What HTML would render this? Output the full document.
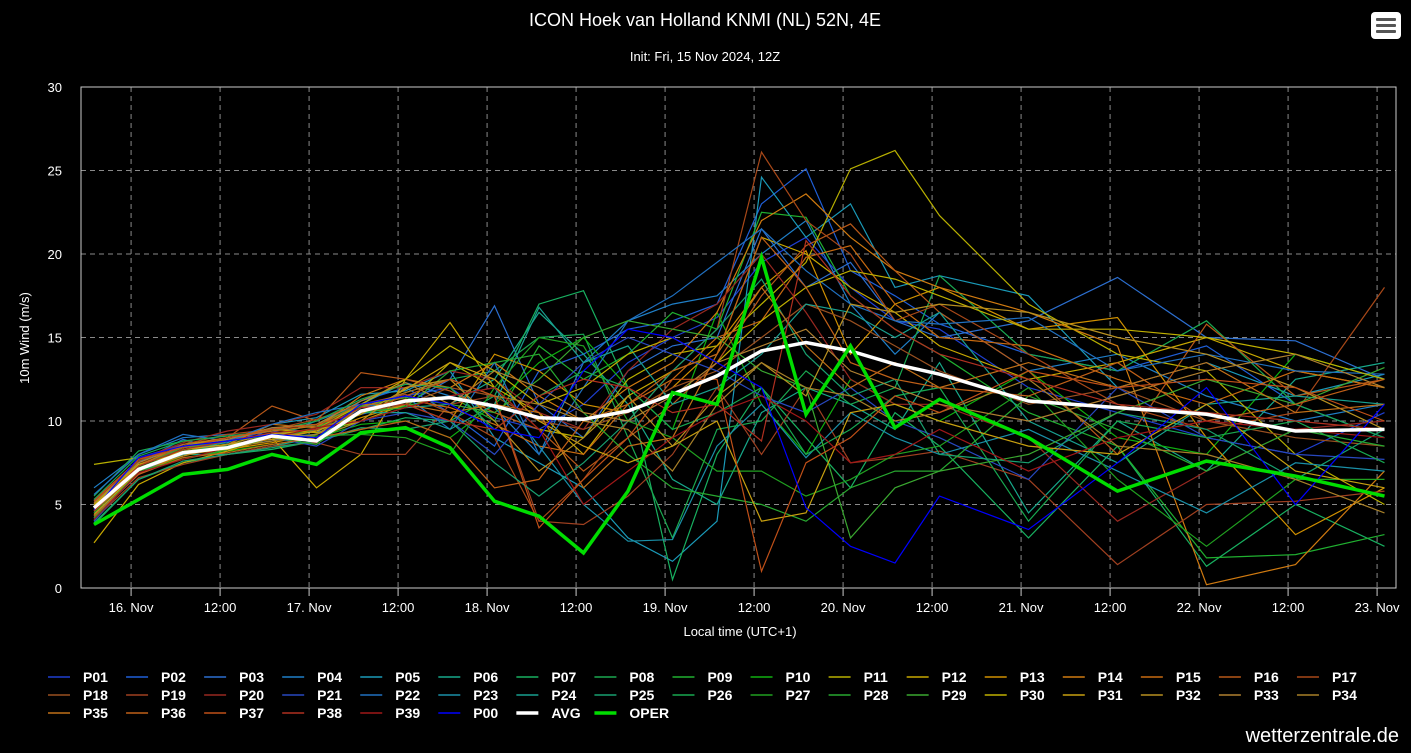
<!DOCTYPE html>
<html><head><meta charset="utf-8">
<style>
html,body{margin:0;padding:0;background:#000;}
body{width:1411px;height:748px;overflow:hidden;position:relative;font-family:"Liberation Sans",sans-serif;}
svg text{font-family:"Liberation Sans",sans-serif;}
</style></head>
<body>
<svg id="chart" width="1411" height="748" xmlns="http://www.w3.org/2000/svg">
<rect x="0" y="0" width="1411" height="748" fill="#000"/>
<text x="705" y="26" fill="#fff" font-size="18" text-anchor="middle">ICON Hoek van Holland KNMI (NL) 52N, 4E</text>
<text x="705" y="61" fill="#fff" font-size="13" text-anchor="middle">Init: Fri, 15 Nov 2024, 12Z</text>
<g>
<rect x="1371" y="12" width="30" height="27" rx="4" fill="#fff"/>
<rect x="1376" y="18" width="20" height="3" rx="1" fill="#555"/>
<rect x="1376" y="24" width="20" height="3" rx="1" fill="#555"/>
<rect x="1376" y="30" width="20" height="3" rx="1" fill="#555"/>
</g>
<g id="grid"></g>
<g id="series"></g>
<rect x="81" y="87" width="1315" height="501" fill="none" stroke="#ccc" stroke-width="1"/>
<g id="axes"></g>
<text transform="translate(29,338) rotate(-90)" fill="#fff" font-size="13" text-anchor="middle">10m Wind (m/s)</text>
<text x="740" y="636" fill="#fff" font-size="13" text-anchor="middle">Local time (UTC+1)</text>
<g id="legend"></g>
<text x="1399" y="742" fill="#fff" font-size="20" text-anchor="end">wetterzentrale.de</text>
</svg>
<script>
const hours=[0,6,12,18,24,30,36,42,48,54,60,66,72,78,84,90,96,102,108,114,126,138,150,162,174];
const yTicks=[0,5,10,15,20,25,30];
const xTickHours=[5,17,29,41,53,65,77,89,101,113,125,137,149,161,173];
const xTickLabels=["16. Nov","12:00","17. Nov","12:00","18. Nov","12:00","19. Nov","12:00","20. Nov","12:00","21. Nov","12:00","22. Nov","12:00","23. Nov"];
const memberNames=["P01","P02","P03","P04","P05","P06","P07","P08","P09","P10","P11","P12","P13","P14","P15","P16","P17","P18","P19","P20","P21","P22","P23","P24","P25","P26","P27","P28","P29","P30","P31","P32","P33","P34","P35","P36","P37","P38","P39","P00"];
const P01=[4.5,7.8,8.6,8.9,9.4,9.0,10.8,11.5,12.0,10.2,9.5,11.0,13.5,15.0,16.2,19.5,21.0,18.0,16.0,15.5,12.0,10.5,9.0,8.0,10.5];
const P02=[5.0,7.5,8.9,8.2,9.6,9.3,11.2,12.0,10.5,8.5,13.0,14.0,15.5,16.0,17.0,23.0,25.1,19.0,17.5,15.8,14.0,13.0,14.5,11.0,9.0];
const P03=[4.2,6.8,8.2,8.5,8.8,9.5,10.4,11.0,12.5,16.9,11.0,9.0,13.0,14.5,15.0,21.5,18.0,19.5,16.0,15.0,16.0,18.6,15.0,14.8,12.5];
const P04=[6.0,8.0,9.0,9.2,9.0,10.0,11.0,12.3,11.5,10.8,8.0,13.5,16.0,17.0,17.5,20.0,22.0,17.0,14.0,16.5,13.0,14.0,11.5,10.0,11.0];
const P05=[5.2,7.6,8.4,8.7,9.8,10.2,11.6,11.8,13.0,9.0,7.5,6.0,3.0,1.6,4.0,24.6,21.0,23.0,18.0,18.7,17.5,12.0,13.5,11.5,12.8];
const P06=[4.0,7.0,8.0,8.0,8.5,9.0,10.0,10.8,11.0,12.5,16.5,14.0,11.0,6.5,5.0,10.5,12.0,11.0,9.5,13.5,4.5,10.0,7.0,12.5,13.5];
const P07=[3.8,6.5,7.5,8.0,8.3,8.8,9.5,10.2,10.0,11.5,17.0,17.8,12.0,0.5,8.0,12.0,9.0,6.0,10.5,8.5,3.0,8.5,1.3,5.0,2.5];
const P08=[5.5,8.2,8.8,8.4,9.2,9.8,11.0,11.5,12.5,13.0,15.0,15.2,9.0,3.0,9.5,10.0,13.0,11.0,12.0,18.7,14.0,13.0,16.0,11.0,9.0];
const P09=[4.6,7.3,8.3,8.6,9.0,9.5,10.5,10.9,11.5,10.0,14.5,12.5,14.0,16.5,15.5,22.5,22.2,17.5,15.5,14.0,10.5,8.5,1.8,2.0,3.2];
const P10=[4.8,7.0,7.8,8.2,8.6,9.0,9.8,10.0,9.0,11.0,13.5,15.0,12.0,9.5,16.5,11.0,8.0,12.5,11.0,10.0,13.0,9.0,8.0,14.0,12.5];
const P11=[7.4,7.8,8.5,9.0,9.5,9.3,10.0,11.0,13.5,12.0,9.5,9.0,12.5,14.0,14.5,17.0,19.5,25.1,26.2,22.3,17.0,14.0,13.0,8.0,5.0];
const P12=[2.7,6.2,7.5,8.2,9.0,6.0,8.0,12.5,15.9,12.0,10.5,8.0,11.5,13.0,14.0,21.0,20.0,18.0,16.5,14.5,12.5,13.5,15.0,13.0,12.0];
const P13=[4.3,6.8,8.0,8.3,8.7,9.2,10.2,11.0,10.0,14.0,13.0,11.0,10.5,12.0,14.5,18.0,20.2,14.0,17.0,18.0,15.5,16.2,9.0,3.2,6.0];
const P14=[5.0,7.2,8.2,8.6,9.8,9.6,11.5,12.5,12.0,13.5,11.5,10.0,12.0,13.5,16.5,22.0,23.6,21.0,19.0,18.0,16.5,14.5,0.2,1.4,7.0];
const P15=[4.4,7.0,7.9,8.5,9.0,9.4,10.6,11.3,10.8,9.8,8.5,8.0,11.0,12.5,15.0,16.0,19.8,20.5,17.0,15.0,14.5,12.5,11.0,13.0,12.0];
const P16=[4.7,7.4,8.4,9.0,10.9,10.0,12.9,12.5,11.8,10.5,9.5,7.0,9.0,11.0,13.5,17.5,20.5,21.8,19.0,16.5,13.0,8.0,15.8,11.5,12.5];
const P17=[5.3,7.6,8.6,9.2,9.5,10.1,11.0,11.6,10.5,9.0,4.0,6.5,10.0,13.0,15.5,26.1,22.0,20.0,16.0,17.0,14.0,11.0,9.5,10.5,18.0];
const P18=[4.9,7.1,8.1,8.5,9.2,9.0,10.5,11.0,12.0,11.5,10.0,9.5,10.5,12.0,13.0,15.0,17.0,16.0,14.5,13.0,11.0,12.0,10.0,9.0,8.5];
const P19=[4.1,6.6,7.4,8.0,8.5,8.7,8.0,8.0,11.0,11.5,4.0,3.8,5.5,8.0,12.0,8.0,12.0,7.5,7.8,8.2,6.5,1.4,5.0,5.2,5.8];
const P20=[5.1,7.7,8.7,9.4,9.8,10.4,12.0,12.0,13.0,12.5,10.5,9.5,13.0,15.5,17.0,20.0,16.5,12.5,11.0,11.0,9.0,4.0,7.0,9.5,10.0];
const P21=[4.0,7.0,8.5,8.5,9.0,8.5,10.0,10.5,10.0,8.0,11.0,13.5,15.0,14.0,13.0,11.5,10.5,12.0,10.0,9.0,6.5,12.0,9.0,8.0,7.7];
const P22=[5.6,8.0,9.2,8.8,9.8,10.5,11.0,11.5,9.5,13.5,8.0,12.0,16.0,17.5,19.5,21.5,19.0,17.0,16.0,15.8,16.2,13.0,14.0,13.0,12.8];
const P23=[4.3,7.0,8.0,8.5,9.0,9.2,10.8,11.2,11.5,12.0,8.5,5.0,2.8,2.9,8.5,11.0,7.8,10.5,9.0,8.0,9.5,7.0,4.5,7.5,7.0];
const P24=[4.6,7.2,8.0,8.8,9.2,9.0,10.5,10.5,9.5,11.0,16.8,13.5,14.5,11.0,12.0,14.0,17.0,16.5,15.0,16.5,10.0,7.5,11.0,11.5,11.0];
const P25=[3.9,6.5,7.6,8.0,8.4,8.8,9.6,9.5,10.0,7.5,5.5,7.5,10.0,13.0,15.5,18.5,14.0,11.5,12.5,8.0,7.5,10.5,9.5,6.5,9.5];
const P26=[5.3,7.9,8.8,9.1,9.4,10.0,11.3,12.2,12.0,9.5,11.5,13.0,12.0,9.5,10.5,12.0,8.0,9.5,11.5,12.0,4.0,10.0,9.0,10.0,7.5];
const P27=[4.5,7.2,8.2,8.5,9.0,9.1,9.2,9.0,8.0,12.0,15.0,14.5,10.0,9.0,7.0,7.0,5.5,6.5,8.0,8.5,12.0,6.5,2.5,6.5,6.5];
const P28=[4.2,7.0,7.7,8.3,9.0,8.6,10.5,10.8,13.0,13.5,14.0,10.5,8.0,6.0,5.5,5.0,4.0,6.0,7.0,7.0,11.5,9.5,7.0,9.5,8.5];
const P29=[4.8,7.3,8.4,8.8,9.1,9.6,10.9,11.4,11.0,10.5,12.5,15.0,16.0,15.5,15.0,13.0,12.0,3.0,6.0,7.0,8.0,10.5,12.5,11.0,13.2];
const P30=[5.0,7.4,8.1,8.3,9.2,9.5,11.0,12.5,14.5,13.0,11.0,12.0,14.0,15.0,13.5,16.0,18.0,19.0,18.5,17.5,15.5,15.5,15.0,14.0,12.5];
const P31=[4.4,7.0,8.3,8.6,8.9,9.4,10.4,11.9,13.5,12.5,10.0,8.5,7.5,8.5,10.0,4.0,4.5,10.5,11.0,10.0,8.5,8.0,11.0,7.0,6.0];
const P32=[4.7,7.1,7.9,8.6,9.3,9.0,10.0,12.0,12.5,10.0,7.0,9.0,11.5,8.5,11.5,13.5,11.5,17.0,16.5,17.0,16.5,15.0,14.0,12.0,9.5];
const P33=[5.1,7.5,8.5,8.9,9.6,9.8,11.2,12.3,11.0,13.0,12.0,10.5,10.0,11.5,13.5,14.5,15.5,13.0,12.0,11.0,10.0,11.5,13.0,14.0,12.0];
const P34=[4.6,7.0,8.2,8.4,8.8,9.2,10.8,11.7,12.5,11.5,11.0,10.0,9.5,7.0,11.0,13.5,12.0,11.5,10.0,10.5,12.5,8.5,8.0,6.5,4.5];
const P35=[4.9,7.3,8.6,9.0,9.4,9.7,11.0,11.0,10.5,11.0,10.5,6.0,8.5,9.0,14.0,18.0,14.5,12.0,13.5,12.0,13.5,12.0,13.5,10.5,11.0];
const P36=[4.3,6.8,7.8,8.1,8.6,9.0,9.5,10.0,9.0,6.0,6.5,10.0,11.0,13.0,14.0,21.0,18.0,13.5,12.5,12.0,11.5,13.5,10.0,11.0,12.5];
const P37=[5.2,7.7,8.4,9.0,9.5,9.8,10.5,11.5,12.5,11.5,3.6,6.5,9.0,12.5,12.5,1.0,7.5,9.0,11.5,10.5,13.0,12.0,12.5,12.0,10.0];
const P38=[4.6,7.3,8.3,8.8,9.3,9.5,10.8,11.0,10.0,9.5,11.5,12.5,12.0,10.5,11.0,8.8,20.8,17.5,15.5,14.0,12.5,11.0,10.5,10.0,9.5];
const P39=[4.1,6.9,7.7,8.4,9.0,9.6,10.0,10.8,11.5,12.0,9.5,5.0,7.0,9.0,10.5,11.5,10.0,7.5,8.0,9.5,7.0,9.0,10.0,9.5,9.0];
const P00=[4.7,7.8,8.5,8.8,9.2,9.0,11.0,11.5,11.0,9.5,9.0,13.0,15.5,15.0,13.5,12.0,4.8,2.5,1.5,5.5,3.5,7.5,12.0,5.0,11.0];
const avgValues=[4.8,7.1,8.1,8.4,9.1,8.8,10.6,11.2,11.4,10.9,10.2,10.1,10.6,11.6,12.7,14.2,14.7,14.2,13.4,12.8,11.2,10.8,10.4,9.4,9.5];
const operValues=[3.8,5.3,6.8,7.1,8.0,7.4,9.3,9.6,8.4,5.2,4.3,2.1,5.8,11.7,11.0,19.8,10.4,14.5,9.6,11.3,9.0,5.8,7.6,6.7,5.5];

const members=[P01,P02,P03,P04,P05,P06,P07,P08,P09,P10,P11,P12,P13,P14,P15,P16,P17,P18,P19,P20,P21,P22,P23,P24,P25,P26,P27,P28,P29,P30,P31,P32,P33,P34,P35,P36,P37,P38,P39,P00];
const colors=["#1f3fd0","#1f5fd8","#2c6fd0","#1f7fc8","#1a9ab8","#17a88a","#18b060","#1aa850","#20b030","#10b010","#b8b000","#c8a800","#d09000","#d07a10","#c86a10","#b85818","#a84818","#9a5020","#a04020","#982820","#2848c0","#2070c0","#1a90a8","#18a090","#18a070","#18a850","#20a020","#28a830","#3aa830","#c0b000","#c8a010","#b89020","#b08030","#a88028","#c07018","#c06018","#c05018","#b03020","#a01818","#0000ff"];

const NS="http://www.w3.org/2000/svg";
const X0=94, PXH=44.5/6, Y0=588, PXV=501/30;
const xs=h=>X0+h*PXH;
const ys=v=>Y0-v*PXV;
const svg=document.getElementById('chart');
const grid=document.getElementById('grid');
const axes=document.getElementById('axes');
const seriesG=document.getElementById('series');
const legend=document.getElementById('legend');
function mk(tag,attrs,parent){const e=document.createElementNS(NS,tag);for(const k in attrs)e.setAttribute(k,attrs[k]);parent.appendChild(e);return e;}

yTicks.forEach(v=>{
  if(v>0&&v<30){const l=mk('line',{x1:81,x2:1396,y1:ys(v),y2:ys(v),stroke:'#8a8a8a','stroke-dasharray':'5,4','stroke-width':1},grid);
  
  }
  const t=mk('text',{x:62,y:ys(v)+5,fill:'#fff','font-size':13,'text-anchor':'end'},axes);
  t.textContent=v;
  
  
});
xTickHours.forEach((h,i)=>{
  const l=mk('line',{x1:xs(h),x2:xs(h),y1:87,y2:588,stroke:'#8a8a8a','stroke-dasharray':'5,4','stroke-width':1},grid);
  
  
  const tk=mk('line',{x1:xs(h),x2:xs(h),y1:588,y2:596,stroke:'#ccc'},axes);
  
  
  const t=mk('text',{x:xs(h),y:612,fill:'#fff','font-size':13,'text-anchor':'middle'},axes);
  t.textContent=xTickLabels[i];
  
  
});
function pts(arr){return arr.map((v,i)=>xs(hours[i]).toFixed(1)+','+ys(v).toFixed(1)).join(' ');}
members.forEach((arr,i)=>{
  const p=mk('polyline',{points:pts(arr),fill:'none',stroke:colors[i],'stroke-width':1.2},seriesG);
  
  
});
const pa=mk('polyline',{points:pts(avgValues),fill:'none',stroke:'#fff','stroke-width':3.5},seriesG);


const po=mk('polyline',{points:pts(operValues),fill:'none',stroke:'#00dd00','stroke-width':3.5},seriesG);



const legNames=memberNames.concat(["AVG","OPER"]);
const legColors=colors.concat(["#fff","#00dd00"]);
legNames.forEach((n,i)=>{
  const col=i%17,row=Math.floor(i/17);
  const x=48+col*78.06,y=677+row*18;
  const g=mk('g',{},legend);
  
  
  const big=(n==="AVG"||n==="OPER");
  mk('line',{x1:x,x2:x+22,y1:y,y2:y,stroke:legColors[i],'stroke-width':big?3.5:1.5},g);
  const t=mk('text',{x:x+35,y:y+5,fill:'#fff','font-size':14,'font-weight':'bold'},g);
  t.textContent=n;
});
</script>
</body></html>
